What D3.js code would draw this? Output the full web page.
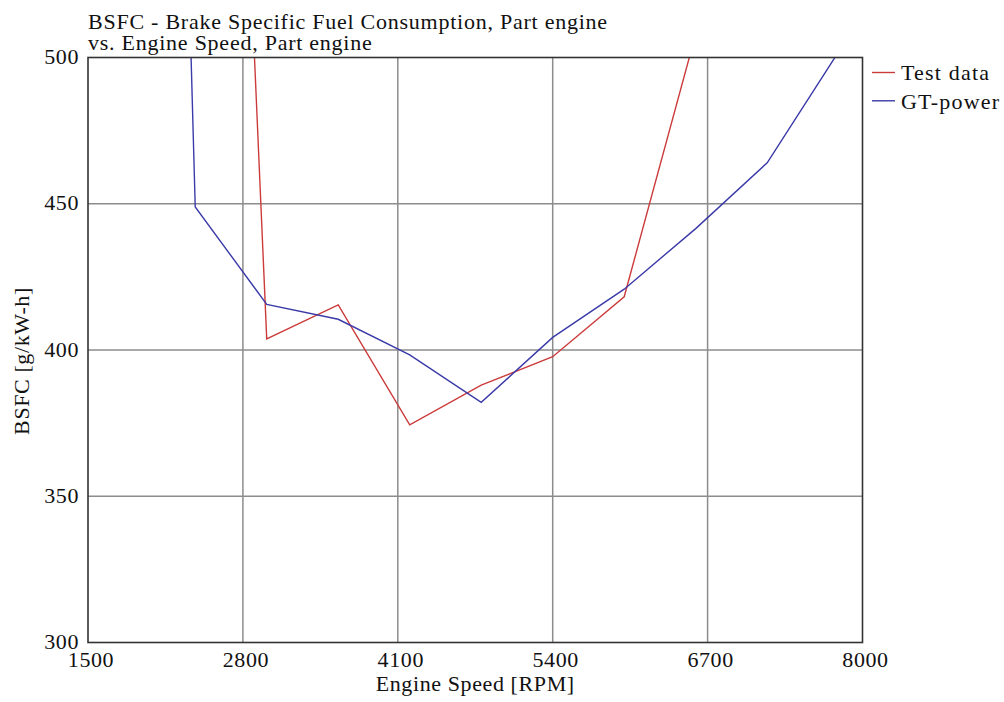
<!DOCTYPE html>
<html>
<head>
<meta charset="utf-8">
<script src="https://cdn.jsdelivr.net/npm/d3@7"></script>
<style>
  html, body { margin: 0; padding: 0; background: #fff; }
  svg { display: block; }
  text { font-family: "Liberation Serif", "Times New Roman", serif; font-size: 22px; letter-spacing: 0.6px; fill: #111; }
  text.title { letter-spacing: 0.75px; }
  text.legend { letter-spacing: 1.2px; }
</style>
</head>
<body>
<svg id="chart" width="1004" height="702"></svg>
<script>
// Engine speed sweep, part-load BSFC
const testRpm   = [2800, 3000, 3600, 4200, 4800, 5400, 6000, 6600];
const testBsfc  = [591, 403.8, 415.4, 374.4, 388.0, 397.7, 418.2, 508];
const simRpm    = [2200, 2400, 3000, 3600, 4200, 4800, 5400, 6000, 6600, 7200, 7800];
const simBsfc   = [742, 448.9, 415.6, 410.5, 398.3, 382.1, 404.3, 420.8, 441.5, 464, 502];

const xTicks = [1500, 2800, 4100, 5400, 6700, 8000];
const yTicks = [300, 350, 400, 450, 500];

const titleLines = ["BSFC - Brake Specific Fuel Consumption, Part engine", "vs. Engine Speed, Part engine"];
const xLabel = "Engine Speed [RPM]";
const yLabel = "BSFC [g/kW-h]";
const seriesNames = ["Test data", "GT-power"];
const seriesColors = ["#cc3b3b", "#3a3aa8"];

const margin = { left: 88, top: 57.5, right: 862.5, bottom: 642.5 };

const svg = d3.select("#chart");

const x = d3.scaleLinear().domain([1500, 8000]).range([margin.left, margin.right]);
const y = d3.scaleLinear().domain([300, 500]).range([margin.bottom, margin.top]);

// grid
const grid = svg.append("g");
grid.selectAll("line.vx").data(xTicks.slice(1, -1)).join("line")
  .attr("x1", d => x(d)).attr("x2", d => x(d))
  .attr("y1", margin.top).attr("y2", margin.bottom)
  .attr("stroke", "#8c8c8c").attr("stroke-width", 1.5);
grid.selectAll("line.hy").data(yTicks.slice(1, -1)).join("line")
  .attr("x1", margin.left).attr("x2", margin.right)
  .attr("y1", d => y(d)).attr("y2", d => y(d))
  .attr("stroke", "#8c8c8c").attr("stroke-width", 1.5);

// clip region for the series
svg.append("defs").append("clipPath").attr("id", "plotClip")
  .append("rect")
  .attr("x", margin.left).attr("y", margin.top)
  .attr("width", margin.right - margin.left).attr("height", margin.bottom - margin.top);

const line = d3.line().x(d => x(d[0])).y(d => y(d[1]));
const series = [
  d3.zip(testRpm, testBsfc),
  d3.zip(simRpm, simBsfc)
];
svg.append("g").attr("clip-path", "url(#plotClip)")
  .selectAll("path").data(series).join("path")
  .attr("d", line)
  .attr("fill", "none")
  .attr("stroke", (d, i) => seriesColors[i])
  .attr("stroke-width", 1.4)
  .attr("stroke-linejoin", "miter");

// frame
svg.append("rect")
  .attr("x", margin.left).attr("y", margin.top)
  .attr("width", margin.right - margin.left).attr("height", margin.bottom - margin.top)
  .attr("fill", "none").attr("stroke", "#333").attr("stroke-width", 1.6);

// axes (labels only, ticks drawn by the grid)
const xAxis = d3.axisBottom(x).tickValues(xTicks).tickSize(0).tickPadding(0).tickFormat(d3.format("d"));
const xg = svg.append("g").attr("transform", `translate(2.5,${margin.bottom})`).call(xAxis);
xg.select(".domain").remove();
xg.selectAll("text").attr("dy", null).attr("y", 24.5).attr("fill", "#111").attr("font-size", null).attr("font-family", null);

const yAxis = d3.axisLeft(y).tickValues(yTicks).tickSize(0).tickPadding(0).tickFormat(d3.format("d"));
const yg = svg.append("g").attr("transform", `translate(${margin.left - 9},-1)`).call(yAxis);
yg.select(".domain").remove();
yg.selectAll("text").attr("x", 0).attr("fill", "#111").attr("font-size", null).attr("font-family", null);

// titles
svg.selectAll("text.title").data(titleLines).join("text")
  .attr("class", "title")
  .attr("x", margin.left).attr("y", (d, i) => 29 + i * 21)
  .text(d => d);

svg.append("text")
  .attr("x", (margin.left + margin.right) / 2).attr("y", 691)
  .attr("text-anchor", "middle")
  .text(xLabel);

svg.append("text")
  .attr("transform", "translate(29,361) rotate(-90)")
  .attr("text-anchor", "middle")
  .text(yLabel);

// legend
const legend = svg.append("g");
seriesNames.forEach((name, i) => {
  const ly = 72.5 + i * 28.3;
  legend.append("line")
    .attr("x1", 872).attr("x2", 895).attr("y1", ly).attr("y2", ly)
    .attr("stroke", seriesColors[i]).attr("stroke-width", 1.4);
  legend.append("text")
    .attr("class", "legend")
    .attr("x", 901).attr("y", ly).attr("dy", "0.35em")
    .text(name);
});
</script>
</body>
</html>
